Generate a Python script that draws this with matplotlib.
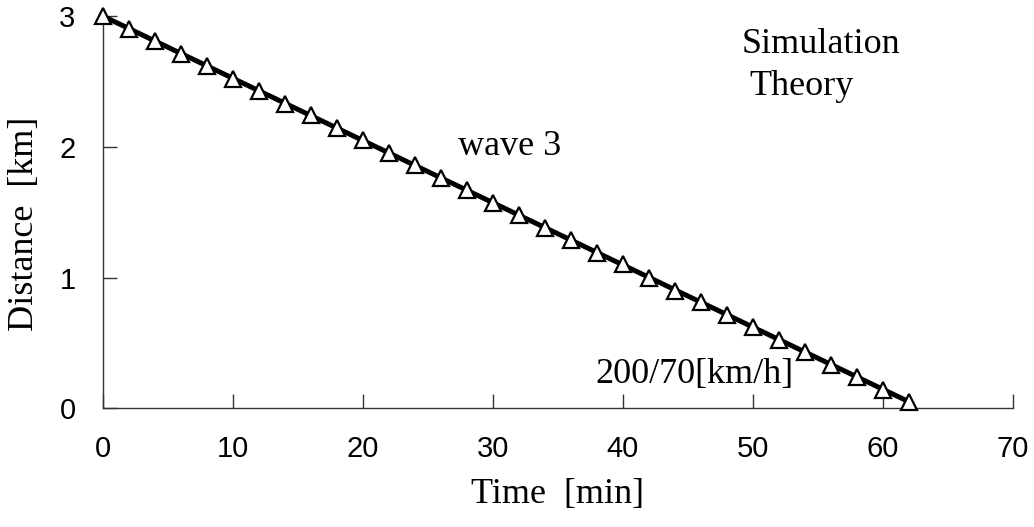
import matplotlib
matplotlib.use("Agg")
import matplotlib.pyplot as plt

# Data
time_min = [0, 2, 4, 6, 8, 10, 12, 14, 16, 18, 20, 22, 24, 26, 28, 30,
            32, 34, 36, 38, 40, 42, 44, 46, 48, 50, 52, 54, 56, 58, 60, 62]
sim_km = [3.00, 2.90, 2.81, 2.71, 2.62, 2.52, 2.43, 2.33, 2.24, 2.14, 2.05,
          1.95, 1.86, 1.76, 1.67, 1.57, 1.48, 1.38, 1.29, 1.19, 1.10, 1.00,
          0.90, 0.81, 0.71, 0.62, 0.52, 0.43, 0.33, 0.24, 0.14, 0.05]
theory_t = [0, 62]
theory_km = [3.00, 0.05]
xticks = [0, 10, 20, 30, 40, 50, 60, 70]
yticks = [0, 1, 2, 3]

serif = "Liberation Serif"
sans = "Liberation Sans"
plt.rcParams["font.family"] = [sans, "DejaVu Sans"]

fig = plt.figure(figsize=(10.34, 5.27), dpi=100)
ax = fig.add_axes([0.0993, 0.2252, 0.8804, 0.7444])

ax.plot(theory_t, theory_km, color="black", lw=3.6, solid_capstyle="butt", zorder=2)
ax.plot(time_min, sim_km, linestyle="none", marker="^", markersize=11.5,
        markerfacecolor="white", markeredgecolor="black", markeredgewidth=1.6,
        zorder=3, clip_on=False)

ax.set_xlim(0, 70)
ax.set_ylim(0, 3)
ax.set_xticks(xticks)
ax.set_yticks(yticks)
ax.spines["top"].set_visible(False)
ax.spines["right"].set_visible(False)
for s in ("left", "bottom"):
    ax.spines[s].set_linewidth(1.0)
    ax.spines[s].set_color("#333333")
ax.tick_params(axis="both", direction="in", length=10, width=1.0,
               color="#333333", labelsize=21)
ax.tick_params(axis="x", pad=19.5)
ax.tick_params(axis="y", pad=19.5)

ax.set_xlabel("Time  [min]", fontfamily=serif, fontsize=26)
ax.xaxis.set_label_coords(0.5, -0.178)
ax.set_ylabel("Distance  [km]", fontfamily=serif, fontsize=26)
ax.yaxis.set_label_coords(-0.068, 0.47)

ax.text(49.1, 2.716, "Simulation", fontfamily=serif, fontsize=26, va="baseline", ha="left")
ax.text(49.7, 2.395, "Theory", fontfamily=serif, fontsize=26, va="baseline", ha="left")
ax.text(31.3, 1.937, "wave 3", fontfamily=serif, fontsize=26, va="baseline", ha="center")
ax.text(45.5, 0.191, "200/70[km/h]", fontfamily=serif, fontsize=26, va="baseline", ha="center")

fig.savefig("out.png", dpi=100)
